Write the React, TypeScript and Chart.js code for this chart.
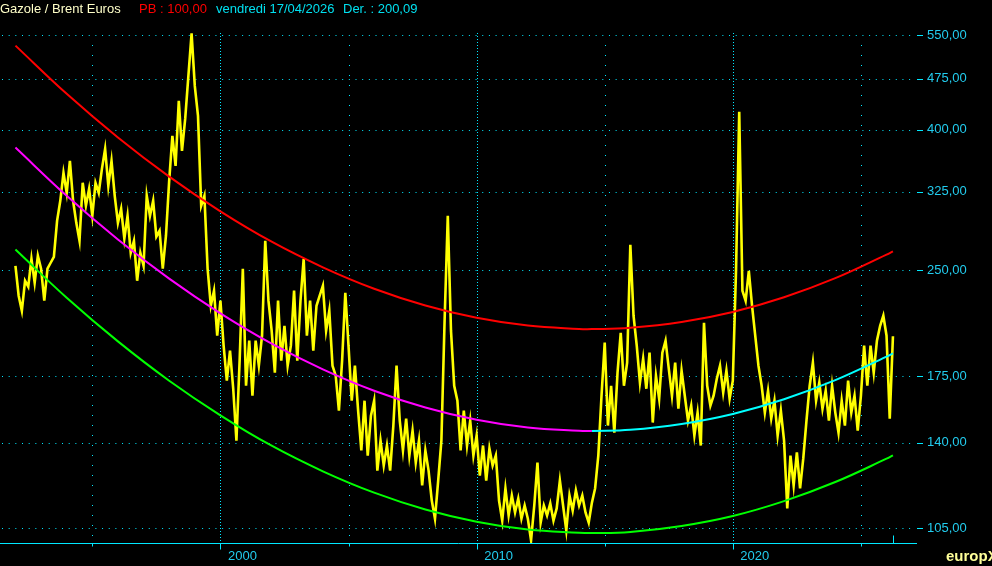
import React, { useEffect, useRef } from 'react';
import { Chart, registerables } from 'chart.js';

Chart.register(...registerables);

// ---- data ----
const START_YEAR = 1992.0;
const STEP_YEARS = 0.125;
const ratioValues = [
  253.5, 229.3, 218.0, 241.1, 236.3, 259.5, 239.5, 262.2, 251.0, 225.5,
  251.0, 256.1, 261.3, 294.8, 315.3, 346.3, 323.8, 360.5, 315.3, 292.8,
  275.7, 334.9, 310.0, 328.2, 299.8, 334.9, 323.8, 350.9, 375.3, 331.5,
  360.5, 320.6, 292.8, 306.9, 277.6, 299.8, 264.8, 275.7, 241.1, 264.8,
  253.5, 320.6, 299.8, 315.3, 279.5, 285.1, 251.0, 280.4, 337.1, 392.0,
  354.5, 440.8, 372.8, 415.0, 479.4, 553.0, 463.6, 419.2, 310.0, 320.6,
  251.0, 221.7, 233.2, 200.5, 225.5, 193.9, 172.4, 190.7, 167.8, 141.0,
  184.4, 251.0, 169.5, 197.2, 163.9, 197.2, 181.3, 200.5, 275.7, 225.5,
  203.9, 177.1, 225.5, 184.4, 207.3, 181.3, 193.9, 233.2, 184.4, 225.5,
  259.5, 200.5, 225.5, 190.7, 221.7, 229.3, 237.1, 203.9, 218.0, 181.3,
  175.3, 155.9, 184.4, 231.6, 193.9, 161.2, 181.3, 155.9, 136.4, 161.2,
  134.1, 153.3, 161.2, 127.5, 141.0, 129.7, 138.7, 127.5, 148.3, 181.3,
  150.8, 136.4, 151.8, 134.1, 145.8, 131.0, 141.0, 121.3, 136.4, 127.5,
  115.3, 108.5, 123.3, 141.0, 210.8, 299.8, 203.9, 169.5, 161.2, 136.4,
  155.9, 138.7, 150.8, 134.1, 143.4, 125.4, 138.7, 123.3, 137.3, 129.7,
  134.1, 115.3, 107.8, 120.1, 109.7, 117.3, 110.8, 116.1, 108.5, 113.4,
  108.5, 100.9, 113.4, 131.0, 107.1, 113.4, 109.7, 114.2, 107.8, 112.3,
  123.3, 113.4, 104.3, 117.3, 111.5, 119.3, 113.4, 117.3, 110.8, 107.1,
  114.5, 120.1, 134.1, 163.9, 195.9, 148.3, 169.5, 144.8, 177.1, 202.5,
  169.5, 183.2, 272.0, 214.4, 193.9, 171.3, 185.6, 167.8, 189.4, 149.8,
  175.3, 162.3, 189.4, 197.2, 179.5, 163.9, 183.2, 156.9, 178.3, 163.9,
  150.8, 158.5, 143.4, 154.9, 138.7, 209.4, 169.5, 158.5, 163.9, 173.5,
  181.3, 165.6, 178.3, 162.3, 172.4, 249.3, 425.0, 233.2, 225.5, 249.3,
  221.7, 200.5, 181.3, 169.5, 154.9, 166.7, 151.8, 161.2, 143.4, 155.9,
  141.0, 112.3, 134.1, 121.3, 135.5, 120.1, 132.8, 150.8, 169.5, 183.2,
  161.2, 171.3, 156.9, 166.7, 150.8, 169.5, 154.9, 144.8, 161.2, 148.3,
  172.4, 154.9, 163.9, 145.8, 163.9, 193.9, 169.5, 193.9, 177.1, 197.2,
  207.3, 214.4, 200.5, 151.8, 200.09,
];

const curveYears = [1992, 1994, 1996, 1998, 2000, 2002, 2004, 2006, 2008, 2010, 2012, 2014, 2014.5, 2016, 2018, 2020, 2022, 2024, 2026, 2026.25];
const channelUpper = [530.7, 451.4, 389.9, 341.9, 304.3, 274.8, 252.2, 234.7, 221.9, 212.9, 207.4, 205.1, 205.0, 205.9, 209.9, 217.1, 228.1, 243.2, 263.2, 266.1];
const channelMid = [376.9, 320.6, 276.9, 242.8, 216.1, 195.2, 179.1, 166.7, 157.6, 151.2, 147.3, 145.7, 145.6, 146.2, 149.1, 154.2, 162.0, 172.7, 186.9, 189.0];
const channelLower = [267.7, 227.7, 196.7, 172.4, 153.5, 138.6, 127.2, 118.4, 111.9, 107.4, 104.6, 103.5, 103.4, 103.8, 105.9, 109.5, 115.1, 122.7, 132.7, 134.2];
const MID_SPLIT_YEAR = 2014.5;

const yTickValues = [105, 140, 175, 250, 325, 400, 475, 550];
const xTickYears = [1995, 2000, 2005, 2010, 2015, 2020, 2025];
const xLabelYears = [2000, 2010, 2020];

const X_MIN = 1991.397;
const X_MAX = 2027.15;
const Y_MIN = 100;
const Y_MAX = 563;

const GRID = '#00e8ff';
const AXIS_TEXT = '#22ccee';
const FONT = '"Liberation Sans", Arial, sans-serif';

const axisPlugin = {
  id: 'europxAxes',
  beforeDatasetsDraw(chart: any) {
    const { ctx, chartArea: a, scales } = chart;
    const x = scales.x;
    const y = scales.y;
    ctx.save();
    ctx.strokeStyle = GRID;
    ctx.lineWidth = 1;
    ctx.setLineDash([1, 5.67]);
    yTickValues.forEach((v) => {
      const py = Math.round(y.getPixelForValue(v)) + 0.5;
      ctx.beginPath();
      ctx.moveTo(a.left + 2, py);
      ctx.lineTo(a.right - 3, py);
      ctx.stroke();
    });
    xTickYears.forEach((yr) => {
      const px = Math.round(x.getPixelForValue(yr)) + 0.5;
      const major = yr % 10 === 0;
      ctx.setLineDash(major ? [1, 2] : [1, 9]);
      ctx.beginPath();
      ctx.moveTo(px, a.top + (major ? 5 : 17));
      ctx.lineTo(px, a.bottom - 1);
      ctx.stroke();
    });
    ctx.restore();
  },
  afterDraw(chart: any) {
    const { ctx, chartArea: a, scales } = chart;
    const x = scales.x;
    const y = scales.y;
    ctx.save();
    ctx.strokeStyle = GRID;
    ctx.lineWidth = 1;
    ctx.setLineDash([]);
    const by = a.bottom + 0.5;
    ctx.beginPath();
    ctx.moveTo(0, by);
    ctx.lineTo(a.right + 1, by);
    ctx.stroke();
    xTickYears.forEach((yr) => {
      const px = Math.round(x.getPixelForValue(yr)) + 0.5;
      const major = yr % 10 === 0;
      ctx.beginPath();
      ctx.moveTo(px, by);
      ctx.lineTo(px, by + (major ? 6 : 3));
      ctx.stroke();
    });
    yTickValues.forEach((v) => {
      const py = Math.round(y.getPixelForValue(v)) + 0.5;
      ctx.beginPath();
      ctx.moveTo(a.right + 1, py);
      ctx.lineTo(a.right + 7, py);
      ctx.stroke();
    });
    const lastYear = START_YEAR + (ratioValues.length - 1) * STEP_YEARS;
    const lx = Math.round(x.getPixelForValue(lastYear)) + 0.5;
    ctx.beginPath();
    ctx.moveTo(lx, by);
    ctx.lineTo(lx, by - 8);
    ctx.stroke();
    ctx.restore();
  },
};

export default function App() {
  const canvasRef = useRef<HTMLCanvasElement | null>(null);

  useEffect(() => {
    document.body.style.margin = '0';
    document.body.style.background = '#000';
    const canvas = canvasRef.current;
    if (!canvas) return;

    const ratioPoints = ratioValues.map((v, i) => ({ x: START_YEAR + i * STEP_YEARS, y: v }));
    const curvePts = (arr: number[]) => curveYears.map((yr, i) => ({ x: yr, y: arr[i] }));
    const midPts = curvePts(channelMid);

    const lineBase = { pointRadius: 0, borderWidth: 2, fill: false };

    const chart = new Chart(canvas, {
      type: 'line',
      data: {
        datasets: [
          { ...lineBase, label: 'Haut', data: curvePts(channelUpper), borderColor: '#ff0000', tension: 0.4 },
          { ...lineBase, label: 'Moyenne 1', data: midPts.filter((p) => p.x <= MID_SPLIT_YEAR), borderColor: '#ff00ff', tension: 0.4 },
          { ...lineBase, label: 'Moyenne 2', data: midPts.filter((p) => p.x >= MID_SPLIT_YEAR), borderColor: '#00ffff', tension: 0.4 },
          { ...lineBase, label: 'Bas', data: curvePts(channelLower), borderColor: '#00ff00', tension: 0.4 },
          { ...lineBase, label: 'Gazole / Brent Euros', data: ratioPoints, borderColor: '#ffff00', borderWidth: 2.6, tension: 0, borderJoinStyle: 'miter' },
        ],
      } as any,
      options: {
        animation: false,
        responsive: false,
        devicePixelRatio: 1,
        events: [],
        layout: { padding: { top: 28, left: 0, right: 0, bottom: 0 } },
        plugins: { legend: { display: false }, tooltip: { enabled: false } },
        scales: {
          x: {
            type: 'linear',
            min: X_MIN,
            max: X_MAX,
            grid: { display: false, drawTicks: false },
            border: { display: false },
            afterBuildTicks: (scale: any) => {
              scale.ticks = xTickYears.map((v) => ({ value: v }));
            },
            afterFit: (scale: any) => {
              scale.height = 23;
            },
            ticks: {
              autoSkip: false,
              maxRotation: 0,
              minRotation: 0,
              padding: 6,
              labelOffset: 22,
              color: AXIS_TEXT,
              font: { family: FONT, size: 13 },
              callback: (v: any) => (xLabelYears.includes(Number(v)) ? String(v) : ''),
            },
          },
          y: {
            type: 'logarithmic',
            position: 'right',
            min: Y_MIN,
            max: Y_MAX,
            grid: { display: false, drawTicks: false },
            border: { display: false },
            afterBuildTicks: (scale: any) => {
              scale.ticks = yTickValues.map((v) => ({ value: v }));
            },
            afterFit: (scale: any) => {
              scale.width = 76;
            },
            ticks: {
              padding: 11,
              color: AXIS_TEXT,
              font: { family: FONT, size: 13 },
              callback: (v: any) => Number(v).toFixed(2).replace('.', ','),
            },
          },
        },
      } as any,
      plugins: [axisPlugin],
    });

    return () => chart.destroy();
  }, []);

  const head: React.CSSProperties = {
    position: 'absolute',
    top: 1,
    fontFamily: FONT,
    fontSize: 13,
    whiteSpace: 'nowrap',
    lineHeight: '15px',
  };

  return (
    <div style={{ position: 'relative', width: 992, height: 566, background: '#000', overflow: 'hidden' }}>
      <canvas ref={canvasRef} width={992} height={566} style={{ position: 'absolute', left: 0, top: 0, width: 992, height: 566 }} />
      <span style={{ ...head, left: 0, color: '#ffffc8' }}>Gazole / Brent Euros</span>
      <span style={{ ...head, left: 139, color: '#ff0000' }}>PB : 100,00</span>
      <span style={{ ...head, left: 216, color: '#00e0f0' }}>vendredi 17/04/2026</span>
      <span style={{ ...head, left: 343, color: '#00e0f0' }}>Der. : 200,09</span>
      <span
        style={{
          position: 'absolute',
          left: 946,
          top: 547,
          fontFamily: FONT,
          fontSize: 15,
          fontWeight: 'bold',
          color: '#ffff99',
          whiteSpace: 'nowrap',
          lineHeight: '17px',
        }}
      >
        europX
      </span>
    </div>
  );
}
